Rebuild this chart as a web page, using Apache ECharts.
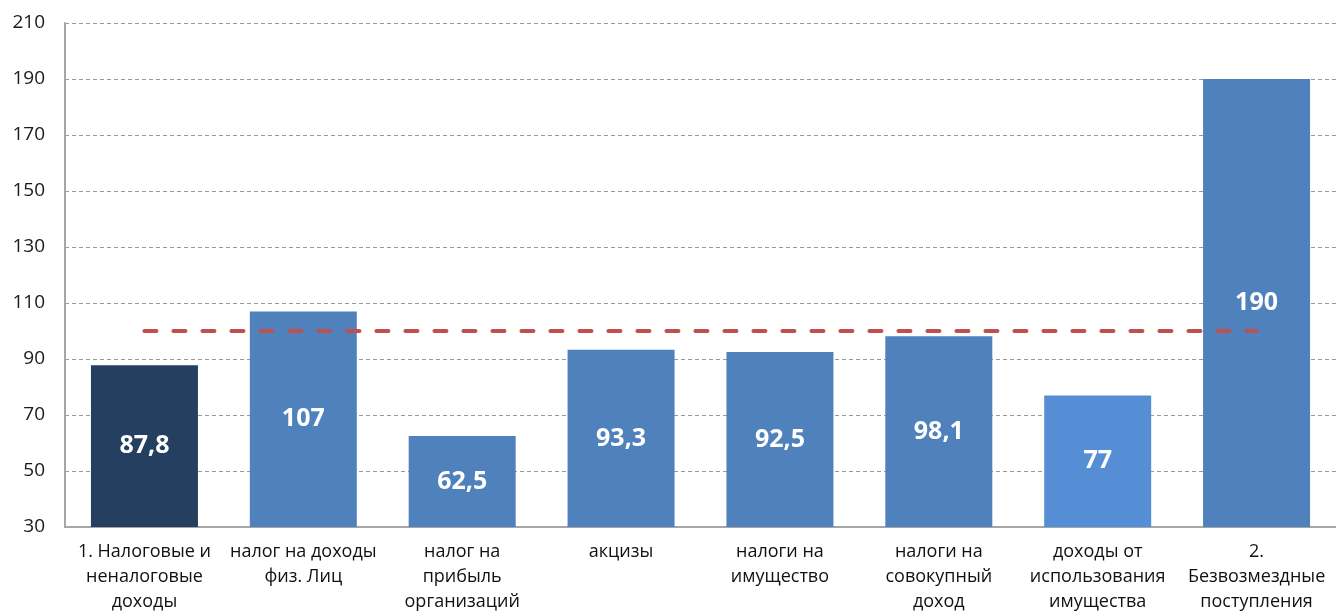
<!DOCTYPE html>
<html><head><meta charset="utf-8">
<script src="https://cdn.jsdelivr.net/npm/echarts@6/dist/echarts.min.js"></script>
<style>html,body{margin:0;padding:0;background:#fff}#c{width:1336px;height:614px}</style>
</head><body><div id="c"></div>
<script>
const categories = ["1. Налоговые и\nненалоговые\nдоходы","налог на доходы\nфиз. Лиц","налог на\nприбыль\nорганизаций","акцизы","налоги на\nимущество","налоги на\nсовокупный\nдоход","доходы от\nиспользования\nимущества","2.\nБезвозмездные\nпоступления"];
const values = [87.8, 107, 62.5, 93.3, 92.5, 98.1, 77, 190];
const valueLabels = ["87,8","107","62,5","93,3","92,5","98,1","77","190"];
const barColors = ["#243F60","#4F81BD","#4F81BD","#4F81BD","#4F81BD","#4F81BD","#558ED5","#4F81BD"];
const targetLine = [100,100,100,100,100,100,100,100];
const yTicks = {min:30, max:210, interval:20};

const font = "'Open Sans', 'Liberation Sans', sans-serif";
const chart = echarts.init(document.getElementById('c'));
chart.setOption({
  animation:false,
  grid:{left:65,right:-6,top:23,bottom:84,containLabel:false},
  xAxis:{type:'category',data:categories,
    axisLine:{lineStyle:{color:'#A6A6A6',width:2}},
    axisTick:{show:false},
    axisLabel:{interval:0,color:'#111',fontSize:18,fontFamily:font,lineHeight:25,margin:12}},
  yAxis:{type:'value',min:yTicks.min,max:yTicks.max,interval:yTicks.interval,
    axisLine:{show:true,lineStyle:{color:'#A6A6A6',width:2}},
    axisTick:{show:false},
    axisLabel:{color:'#1a1a1a',fontSize:19,fontFamily:font,margin:20},
    splitLine:{lineStyle:{color:'#9A9A9A',type:[4,3],width:1}}},
  series:[
    {type:'bar',data:values.map((v,i)=>({value:v,itemStyle:{color:barColors[i]}})),
     barWidth:107,
     label:{show:true,position:'inside',color:'#fff',fontSize:25,fontWeight:'bold',fontFamily:font,
       formatter:p=>valueLabels[p.dataIndex]}},
    {type:'line',data:targetLine,symbol:'none',z:5,
     lineStyle:{color:'#C0504D',width:4,type:[12,17],cap:'round'}}
  ]
});
</script></body></html>
